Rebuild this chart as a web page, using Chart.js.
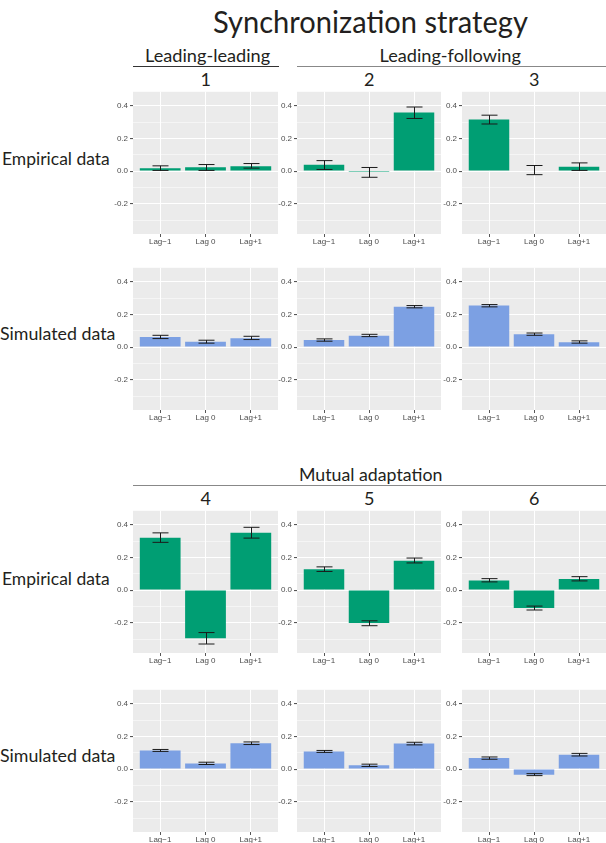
<!DOCTYPE html>
<html>
<head>
<meta charset="utf-8">
<script src="https://cdn.jsdelivr.net/npm/chart.js@4.4.1/dist/chart.umd.min.js"></script>
<style>
  body { margin: 0; background: #fff; }
  #page { position: relative; width: 606px; height: 843px; overflow: hidden; background: #fff; }
  .txt { position: absolute; font-family: Lato, "Open Sans", sans-serif; color: #231f20; line-height: 1; white-space: nowrap; }
  .rule { position: absolute; height: 0; }
  .panel { position: absolute; }
</style>
</head>
<body>
<div id="page"></div>
<script>
const lagLabels = ["Lag\u22121", "Lag 0", "Lag+1"];
const yTicks = [-0.3, -0.2, -0.1, 0, 0.1, 0.2, 0.3, 0.4];
const yMin = -0.385;
const yMax = 0.485;
const panelNames = ["1", "2", "3", "4", "5", "6"];

// empirical data, one row per panel (Lag-1, Lag 0, Lag+1)
const empMean = [
  [0.018, 0.024, 0.030],
  [0.038, -0.006, 0.358],
  [0.316, 0.004, 0.026],
  [0.320, -0.294, 0.350],
  [0.128, -0.202, 0.180],
  [0.058, -0.110, 0.068]
];
const empLow = [
  [0.004, 0.004, 0.018],
  [0.010, -0.038, 0.322],
  [0.288, -0.022, 0.004],
  [0.292, -0.330, 0.318],
  [0.114, -0.218, 0.166],
  [0.050, -0.122, 0.056]
];
const empHigh = [
  [0.032, 0.040, 0.046],
  [0.064, 0.022, 0.392],
  [0.342, 0.034, 0.050],
  [0.350, -0.260, 0.384],
  [0.142, -0.188, 0.196],
  [0.070, -0.098, 0.082]
];

// simulated data
const simMean = [
  [0.062, 0.032, 0.054],
  [0.044, 0.070, 0.246],
  [0.254, 0.078, 0.030],
  [0.114, 0.034, 0.158],
  [0.108, 0.024, 0.156],
  [0.068, -0.034, 0.088]
];
const simLow = [
  [0.052, 0.024, 0.046],
  [0.036, 0.064, 0.240],
  [0.246, 0.072, 0.024],
  [0.108, 0.028, 0.150],
  [0.102, 0.016, 0.148],
  [0.060, -0.040, 0.080]
];
const simHigh = [
  [0.072, 0.042, 0.066],
  [0.050, 0.078, 0.254],
  [0.260, 0.086, 0.038],
  [0.120, 0.042, 0.166],
  [0.114, 0.030, 0.164],
  [0.074, -0.028, 0.096]
];

const empColor = "#009e73";
const simColor = "#7ca0e3";

const page = document.getElementById("page");
const colLeft = [133, 297, 462];
const colWidth = [145, 144, 144];
const rowTop = [89, 265, 508, 687];
const panelH = 145;
const axisW = 22;

function addText(str, x, y, size, opts = {}) {
  const d = document.createElement("div");
  d.className = "txt";
  d.textContent = str;
  d.style.fontSize = size + "px";
  page.appendChild(d);
  const w = d.offsetWidth;
  const sx = opts.width ? opts.width / w : 1;
  if (opts.left) {
    d.style.left = x + "px";
    d.style.top = (y - size / 2) + "px";
    d.style.transformOrigin = "0 50%";
    d.style.transform = `scaleX(${sx})`;
  } else {
    d.style.left = (x - w / 2) + "px";
    d.style.top = (y - size / 2) + "px";
    d.style.transform = `scaleX(${sx})`;
  }
}

function addRule(x1, x2, y, color) {
  const d = document.createElement("div");
  d.className = "rule";
  d.style.left = x1 + "px";
  d.style.width = (x2 - x1) + "px";
  d.style.top = y + "px";
  d.style.borderTop = `1.5px solid ${color}`;
  page.appendChild(d);
}

const isMajor = v => Math.abs(Math.round(v * 10)) % 2 === 0;

function makePanel(col, row, means, lows, highs, color) {
  const left = colLeft[col], top = rowTop[row], w = colWidth[col];
  const wrap = document.createElement("div");
  wrap.className = "panel";
  wrap.style.left = (left - axisW) + "px";
  wrap.style.top = (top - 4) + "px";
  const canvas = document.createElement("canvas");
  canvas.width = w + axisW + 1;
  canvas.height = panelH + 4 + 15;
  wrap.appendChild(canvas);
  page.appendChild(wrap);

  const panelBg = {
    id: "panelBg",
    beforeDraw(chart) {
      const a = chart.chartArea, c = chart.ctx;
      c.save();
      c.fillStyle = "#ebebeb";
      c.fillRect(a.left, a.top, a.right - a.left, a.bottom - a.top);
      c.restore();
    }
  };

  const errBars = {
    id: "errBars",
    afterDatasetsDraw(chart) {
      const c = chart.ctx, xs = chart.scales.x, ys = chart.scales.y;
      c.save();
      c.strokeStyle = "#1a1a1a";
      c.lineWidth = 1;
      lows.forEach((lo, i) => {
        const x = Math.round(xs.getPixelForValue(i + 1)) + 0.5;
        const y1 = ys.getPixelForValue(lo), y2 = ys.getPixelForValue(highs[i]);
        c.beginPath();
        c.moveTo(x, y1); c.lineTo(x, y2);
        c.moveTo(x - 8, y1); c.lineTo(x + 8, y1);
        c.moveTo(x - 8, y2); c.lineTo(x + 8, y2);
        c.stroke();
      });
      c.restore();
    }
  };

  new Chart(canvas, {
    type: "bar",
    data: {
      datasets: [{
        data: means.map((v, i) => ({ x: i + 1, y: v })),
        backgroundColor: color,
        borderWidth: 0,
        barPercentage: 0.9,
        categoryPercentage: 1
      }]
    },
    options: {
      responsive: false,
      animation: false,
      layout: { padding: { top: 4, right: 1, left: 0, bottom: 0 } },
      plugins: { legend: { display: false }, tooltip: { enabled: false } },
      scales: {
        x: {
          type: "linear",
          min: 0.4,
          max: 3.6,
          offset: false,
          afterBuildTicks: s => { s.ticks = [1, 2, 3].map(v => ({ value: v })); },
          afterFit: s => { s.height = 15; },
          border: { display: false },
          grid: { offset: false, color: "#ffffff", lineWidth: 1, tickColor: "#555", tickLength: 3 },
          ticks: {
            callback: v => lagLabels[v - 1],
            color: "#4d4d4d",
            font: { family: "Liberation Sans", size: 8 },
            padding: 0,
            maxRotation: 0,
            autoSkip: false
          }
        },
        y: {
          min: yMin,
          max: yMax,
          afterBuildTicks: s => { s.ticks = yTicks.map(v => ({ value: v })); },
          afterFit: s => { s.width = axisW; },
          border: { display: false },
          grid: {
            color: "#ffffff",
            lineWidth: ctx => (ctx.tick && isMajor(ctx.tick.value)) ? 1.1 : 0.5,
            tickColor: ctx => (ctx.tick && isMajor(ctx.tick.value)) ? "#555" : "rgba(0,0,0,0)",
            tickLength: 3
          },
          ticks: {
            callback: v => isMajor(v) ? v.toFixed(1) : "",
            color: "#4d4d4d",
            font: { family: "Liberation Sans", size: 8 },
            padding: 2,
            autoSkip: false
          }
        }
      }
    },
    plugins: [panelBg, errBars]
  });
}

// headings
addText("Synchronization strategy", 370, 21, 30, { width: 315 });
addText("Leading-leading", 207, 55, 17, { width: 125 });
addText("Leading-following", 450, 55, 17, { width: 141 });
addRule(133, 279, 66, "#333");
addRule(297, 606, 66, "#888");
addText("Mutual adaptation", 370, 474, 17, { width: 143 });
addRule(133, 606, 485, "#888");

[0, 1, 2].forEach(c => {
  const cx = colLeft[c] + colWidth[c] / 2;
  addText(panelNames[c], cx, 79, 18);
  addText(panelNames[c + 3], cx, 498, 18);
});

addText("Empirical data", 2, 158, 17, { left: true, width: 108 });
addText("Simulated data", 0, 333, 17, { left: true, width: 115 });
addText("Empirical data", 2, 578, 17, { left: true, width: 108 });
addText("Simulated data", 0, 755, 17, { left: true, width: 115 });

for (let p = 0; p < 6; p++) {
  const col = p % 3;
  const block = p < 3 ? 0 : 2;
  makePanel(col, block, empMean[p], empLow[p], empHigh[p], empColor);
  makePanel(col, block + 1, simMean[p], simLow[p], simHigh[p], simColor);
}
</script>
</body>
</html>
